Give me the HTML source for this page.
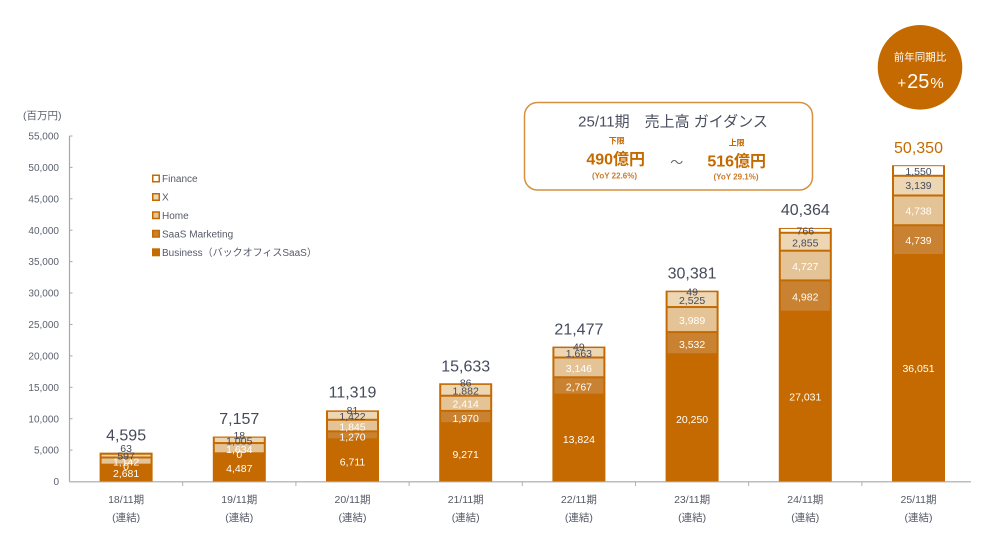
<!DOCTYPE html>
<html><head><meta charset="utf-8"><style>
html,body{margin:0;padding:0;background:#fff;}
svg{display:block;}
text{font-family:"Liberation Sans","Noto Sans CJK JP",sans-serif;}
.yl{font-size:10px;fill:#5c6170;text-anchor:end;}
.xl{font-size:10.5px;fill:#555a66;text-anchor:middle;}
.lg{font-size:10px;fill:#555a66;}
.sw{font-size:10.5px;fill:#fff;text-anchor:middle;}
.sd{font-size:10.5px;fill:#454b5c;text-anchor:middle;}
.tt{font-size:16px;fill:#454b5c;text-anchor:middle;}
</style></head><body>
<svg width="982" height="555" viewBox="0 0 982 555" xmlns="http://www.w3.org/2000/svg">
<rect width="982" height="555" fill="#fff"/>

<!-- y axis -->
<text x="23" y="118.8" font-size="10.5" fill="#5c6170">(百万円)</text>
<line x1="69.5" y1="136" x2="69.5" y2="481.5" stroke="#a8a8a8" stroke-width="1.2"/>
<g stroke="#a8a8a8" stroke-width="1">
<line x1="69.5" y1="136" x2="72.5" y2="136"/>
<line x1="69.5" y1="167.4" x2="72.5" y2="167.4"/>
<line x1="69.5" y1="198.8" x2="72.5" y2="198.8"/>
<line x1="69.5" y1="230.2" x2="72.5" y2="230.2"/>
<line x1="69.5" y1="261.6" x2="72.5" y2="261.6"/>
<line x1="69.5" y1="293" x2="72.5" y2="293"/>
<line x1="69.5" y1="324.5" x2="72.5" y2="324.5"/>
<line x1="69.5" y1="355.9" x2="72.5" y2="355.9"/>
<line x1="69.5" y1="387.3" x2="72.5" y2="387.3"/>
<line x1="69.5" y1="418.7" x2="72.5" y2="418.7"/>
<line x1="69.5" y1="450.1" x2="72.5" y2="450.1"/>
</g>
<text class="yl" x="59" y="139.6">55,000</text>
<text class="yl" x="59" y="171">50,000</text>
<text class="yl" x="59" y="202.4">45,000</text>
<text class="yl" x="59" y="233.8">40,000</text>
<text class="yl" x="59" y="265.2">35,000</text>
<text class="yl" x="59" y="296.6">30,000</text>
<text class="yl" x="59" y="328.1">25,000</text>
<text class="yl" x="59" y="359.5">20,000</text>
<text class="yl" x="59" y="390.9">15,000</text>
<text class="yl" x="59" y="422.3">10,000</text>
<text class="yl" x="59" y="453.7">5,000</text>
<text class="yl" x="59" y="485.1">0</text>

<!-- x axis -->
<line x1="69" y1="481.8" x2="971" y2="481.8" stroke="#bdbdbd" stroke-width="1.5"/>
<g stroke="#b0b0b0" stroke-width="1">
<line x1="182.7" y1="482" x2="182.7" y2="486"/>
<line x1="295.9" y1="482" x2="295.9" y2="486"/>
<line x1="409.1" y1="482" x2="409.1" y2="486"/>
<line x1="522.3" y1="482" x2="522.3" y2="486"/>
<line x1="635.5" y1="482" x2="635.5" y2="486"/>
<line x1="748.7" y1="482" x2="748.7" y2="486"/>
<line x1="861.9" y1="482" x2="861.9" y2="486"/>
</g>
<text class="xl" x="126.1" y="503">18/11期</text><text class="xl" x="126.1" y="521">(連結)</text>
<text class="xl" x="239.3" y="503">19/11期</text><text class="xl" x="239.3" y="521">(連結)</text>
<text class="xl" x="352.5" y="503">20/11期</text><text class="xl" x="352.5" y="521">(連結)</text>
<text class="xl" x="465.7" y="503">21/11期</text><text class="xl" x="465.7" y="521">(連結)</text>
<text class="xl" x="578.9" y="503">22/11期</text><text class="xl" x="578.9" y="521">(連結)</text>
<text class="xl" x="692.1" y="503">23/11期</text><text class="xl" x="692.1" y="521">(連結)</text>
<text class="xl" x="805.3" y="503">24/11期</text><text class="xl" x="805.3" y="521">(連結)</text>
<text class="xl" x="918.5" y="503">25/11期</text><text class="xl" x="918.5" y="521">(連結)</text>

<!-- legend -->
<rect x="152.75" y="175.25" width="6.5" height="6.5" fill="#fff" stroke="#c46a00" stroke-width="1.5"/>
<text class="lg" x="162" y="182.1">Finance</text>
<rect x="152.75" y="193.75" width="6.5" height="6.5" fill="#ecd6b4" stroke="#c46a00" stroke-width="1.5"/>
<text class="lg" x="162" y="200.6">X</text>
<rect x="152.75" y="212" width="6.5" height="6.5" fill="#e4c396" stroke="#c46a00" stroke-width="1.5"/>
<text class="lg" x="162" y="218.9">Home</text>
<rect x="152.75" y="230.5" width="6.5" height="6.5" fill="#c98232" stroke="#c46a00" stroke-width="1.5"/>
<text class="lg" x="162" y="237.3">SaaS Marketing</text>
<rect x="152" y="248.3" width="8" height="8" fill="#c46a00"/>
<text class="lg" x="162" y="255.8">Business（バックオフィスSaaS）</text>

<!-- bars -->
<!-- 18/11 -->
<rect x="99.6" y="452.63" width="53" height="28.87" fill="#c46a00"/>
<rect x="101.6" y="458.48" width="49" height="5.18" fill="#e4c396"/>
<rect x="101.6" y="454.73" width="49" height="1.75" fill="#ecd6b4"/>
<!-- 19/11 -->
<rect x="212.8" y="436.54" width="53" height="44.96" fill="#c46a00"/>
<rect x="214.8" y="444.05" width="49" height="8.26" fill="#e4c396"/>
<rect x="214.8" y="437.73" width="49" height="4.32" fill="#ecd6b4"/>
<!-- 20/11 -->
<rect x="326" y="410.39" width="53" height="71.11" fill="#c46a00"/>
<rect x="328" y="432.36" width="49" height="5.98" fill="#c98232"/>
<rect x="328" y="420.77" width="49" height="9.59" fill="#e4c396"/>
<rect x="328" y="411.84" width="49" height="6.93" fill="#ecd6b4"/>
<!-- 21/11 -->
<rect x="439.2" y="383.29" width="53" height="98.21" fill="#c46a00"/>
<rect x="441.2" y="411.88" width="49" height="10.38" fill="#c98232"/>
<rect x="441.2" y="396.72" width="49" height="13.16" fill="#e4c396"/>
<rect x="441.2" y="384.9" width="49" height="9.82" fill="#ecd6b4"/>
<!-- 22/11 -->
<rect x="552.4" y="346.58" width="53" height="134.92" fill="#c46a00"/>
<rect x="554.4" y="378.28" width="49" height="15.38" fill="#c98232"/>
<rect x="554.4" y="358.51" width="49" height="17.77" fill="#e4c396"/>
<rect x="554.4" y="348.07" width="49" height="8.44" fill="#ecd6b4"/>
<!-- 23/11 -->
<rect x="665.6" y="290.65" width="53" height="190.85" fill="#c46a00"/>
<rect x="667.6" y="333.1" width="49" height="20.19" fill="#c98232"/>
<rect x="667.6" y="308.04" width="49" height="23.06" fill="#e4c396"/>
<rect x="667.6" y="292.18" width="49" height="13.86" fill="#ecd6b4"/>
<!-- 24/11 -->
<rect x="778.8" y="227.93" width="53" height="253.57" fill="#c46a00"/>
<rect x="780.8" y="281.39" width="49" height="29.3" fill="#c98232"/>
<rect x="780.8" y="251.7" width="49" height="27.69" fill="#e4c396"/>
<rect x="780.8" y="233.76" width="49" height="15.94" fill="#ecd6b4"/>
<rect x="780.8" y="228.93" width="49" height="2.83" fill="#fff"/>
<!-- 25/11 -->
<rect x="892" y="165.2" width="53" height="316.3" fill="#c46a00"/>
<rect x="894" y="226.26" width="49" height="27.77" fill="#c98232"/>
<rect x="894" y="196.49" width="49" height="27.77" fill="#e4c396"/>
<rect x="894" y="176.77" width="49" height="17.72" fill="#ecd6b4"/>
<rect x="894" y="166.2" width="49" height="8.57" fill="#fff"/>

<!-- bar labels -->
<text class="sw" x="126.1" y="477">2,681</text>
<text class="sw" x="126.1" y="465.4">1,142</text>
<text class="sw" x="126.1" y="469.8">0</text>
<text class="sd" x="126.1" y="459.4">597</text>
<text class="sd" x="126.1" y="452">63</text>
<text class="tt" x="126.1" y="440.7">4,595</text>

<text class="sw" x="239.3" y="472">4,487</text>
<text class="sw" x="239.3" y="453">1,634</text>
<text class="sw" x="239.3" y="458.1">0</text>
<text class="sd" x="239.3" y="444.4">1,005</text>
<text class="sd" x="239.3" y="438.8">18</text>
<text class="tt" x="239.3" y="424">7,157</text>

<text class="sw" x="352.5" y="465.4">6,711</text>
<text class="sw" x="352.5" y="440.4">1,270</text>
<text class="sw" x="352.5" y="430.4">1,845</text>
<text class="sd" x="352.5" y="419.8">1,422</text>
<text class="sd" x="352.5" y="413.8">81</text>
<text class="tt" x="352.5" y="397.4">11,319</text>

<text class="sw" x="465.7" y="457.8">9,271</text>
<text class="sw" x="465.7" y="422">1,970</text>
<text class="sw" x="465.7" y="407.4">2,414</text>
<text class="sd" x="465.7" y="394.4">1,882</text>
<text class="sd" x="465.7" y="386.4">86</text>
<text class="tt" x="465.7" y="371.7">15,633</text>

<text class="sw" x="578.9" y="443">13,824</text>
<text class="sw" x="578.9" y="390.4">2,767</text>
<text class="sw" x="578.9" y="372">3,146</text>
<text class="sd" x="578.9" y="357">1,663</text>
<text class="sd" x="578.9" y="350.4">49</text>
<text class="tt" x="578.9" y="334.7">21,477</text>

<text class="sw" x="692.1" y="422.8">20,250</text>
<text class="sw" x="692.1" y="347.8">3,532</text>
<text class="sw" x="692.1" y="323.8">3,989</text>
<text class="sd" x="692.1" y="303.8">2,525</text>
<text class="sd" x="692.1" y="295.4">49</text>
<text class="tt" x="692.1" y="278.4">30,381</text>

<text class="sw" x="805.3" y="400.3">27,031</text>
<text class="sw" x="805.3" y="300.4">4,982</text>
<text class="sw" x="805.3" y="269.8">4,727</text>
<text class="sd" x="805.3" y="246.4">2,855</text>
<text class="sd" x="805.3" y="234.4">766</text>
<text class="tt" x="805.3" y="215">40,364</text>

<text class="sw" x="918.5" y="371.8">36,051</text>
<text class="sw" x="918.5" y="243.8">4,739</text>
<text class="sw" x="918.5" y="214.4">4,738</text>
<text class="sd" x="918.5" y="188.8">3,139</text>
<text class="sd" x="918.5" y="174.8">1,550</text>
<text class="tt" x="918.5" y="153" style="fill:#c46a00">50,350</text>

<!-- guidance box -->
<rect x="524.5" y="102.5" width="288" height="87.5" rx="13" ry="13" fill="#fff" stroke="#d4913f" stroke-width="1.5"/>
<text x="673" y="126.4" font-size="15" fill="#4a4f5f" text-anchor="middle">25/11期　売上高 ガイダンス</text>
<text x="616.7" y="143.6" font-size="8" font-weight="bold" fill="#c46a00" text-anchor="middle">下限</text>
<text x="615.7" y="164.7" font-size="16" font-weight="bold" fill="#c46a00" text-anchor="middle">490億円</text>
<text x="614.5" y="178.6" font-size="8" font-weight="bold" fill="#c97a2a" text-anchor="middle">(YoY 22.6%)</text>
<text x="676.7" y="167" font-size="13" fill="#666" text-anchor="middle">～</text>
<text x="736.7" y="145.6" font-size="8" font-weight="bold" fill="#c46a00" text-anchor="middle">上限</text>
<text x="736.7" y="166.7" font-size="16" font-weight="bold" fill="#c46a00" text-anchor="middle">516億円</text>
<text x="736" y="179.6" font-size="8" font-weight="bold" fill="#c97a2a" text-anchor="middle">(YoY 29.1%)</text>

<!-- circle -->
<circle cx="920" cy="67.3" r="42.3" fill="#c46a00"/>
<text x="920" y="60.6" font-size="10.5" fill="#fff" text-anchor="middle">前年同期比</text>
<text x="920.5" y="87.8" fill="#fff" text-anchor="middle"><tspan font-size="15">+</tspan><tspan font-size="20" dx="1">25</tspan><tspan font-size="15" dx="1">%</tspan></text>
</svg>
</body></html>
